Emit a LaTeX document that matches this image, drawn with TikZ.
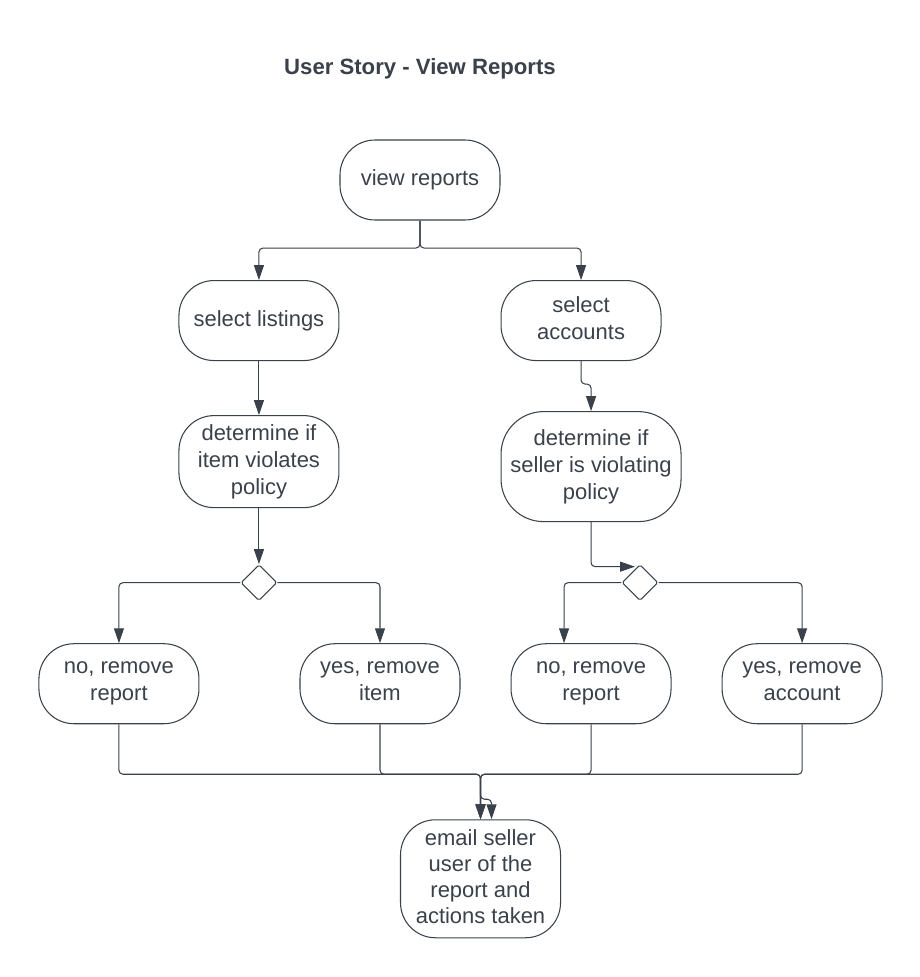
\documentclass[tikz,border=0pt]{standalone}
\usepackage{fontspec}
\setmainfont{Liberation Sans}
\usetikzlibrary{arrows.meta,positioning,shapes.geometric}
\definecolor{ink}{HTML}{3A414A}

\begin{document}
\begin{tikzpicture}[
	> = {Triangle[length=8.5pt, width=5.7pt]}, % arrow head style
	node distance = 1cm, % distance between nodes
	line width = 0.6pt, % line style
	color = ink,
	act/.style={rectangle, draw=ink, rounded corners=0.7cm, minimum width=3.2cm, minimum height=1.6cm, inner sep=2pt, align=center,
		execute at begin node={\rule{0pt}{9.2pt}}, execute at end node={\rule[-2.7pt]{0pt}{2.7pt}},
		font=\fontsize{12.5}{15.3}\selectfont},
	dec/.style={diamond, draw=ink, minimum width=0.72cm, minimum height=0.72cm, inner sep=0pt, rounded corners=1pt},
	title/.style={inner sep=0pt, font=\fontsize{12.6}{14}\selectfont\bfseries},
	link/.style={->, rounded corners=0.08cm},
	]
	\useasboundingbox (-8.4,3.6) rectangle (10.0,-15.94);

	% Nodes and their relative positions
	\node[act] (V) {view reports};
	\node[title] (T) [above = 1.2 of V] {User Story - View Reports};

	\node[act] (SL) [below left = 1.19 and 0 of V] {select listings};
	\node[act] (SA) [below right = 1.19 and 0 of V] {select\\accounts};

	\node[act, minimum height=1.84cm] (DI) [below = 1.08 of SL] {determine if\\item violates\\policy};
	\node[act, minimum width=3.6cm, minimum height=2.2cm, rounded corners=0.85cm] (DS) [below = 1.0 of SA, xshift=0.2cm] {determine if\\seller is violating\\policy};

	\node[dec] (DL) [below = 1.12 of DI] {};
	\node[dec] (DR) [right = 6.88 of DL] {};
	\coordinate (DRin) at ([shift={(-0.1,0.32)}]DR.center);

	\node[act] (NL) [below = 0.84 of DL, xshift=-2.8cm] {no, remove\\report};
	\node[act] (YI) [right = 2 of NL] {yes, remove\\item};
	\node[act] (NR) [right = 1 of YI] {no, remove\\report};
	\node[act] (YA) [right = 1 of NR] {yes, remove\\account};

	\node[act, minimum height=2.36cm, rounded corners=0.7cm, font=\fontsize{12.5}{14.8}\selectfont] (EM) [below = 1.9 of YI.south east, xshift=0.4cm] {email seller\\user of the\\report and\\actions taken};

	% Paths connecting nodes
	\draw[link] (V.south) -- ++(0,-0.55) -| (SL.north);
	\draw[link] (V.south) -- ++(0,-0.55) -| (SA.north);

	\path[link] (SL) edge (DI);
	\draw[link] (SA.south) -- ++(0,-0.46) -| (DS.north);

	\path[link] (DI) edge (DL);
	\draw[link] (DS.south) |- (DRin);

	\draw[link] (DL.west) -| (NL.north);
	\draw[link] (DL.east) -| (YI.north);
	\draw[link] (DR.west) -| ([xshift=-0.54cm]NR.north);
	\draw[link] (DR.east) -| (YA.north);

	\draw[link] (NL.south) -- ++(0,-1) -| (EM.north);
	\draw[link] (YI.south) -- ++(0,-1) -| (EM.north);
	\draw[link] (NR.south) -- ++(0,-1) -| (EM.north);
	\draw[link] (YA.south) -- ++(0,-1) -| ([yshift=0.4cm]EM.north) -| ([xshift=0.22cm]EM.north);

\end{tikzpicture}
\end{document}
